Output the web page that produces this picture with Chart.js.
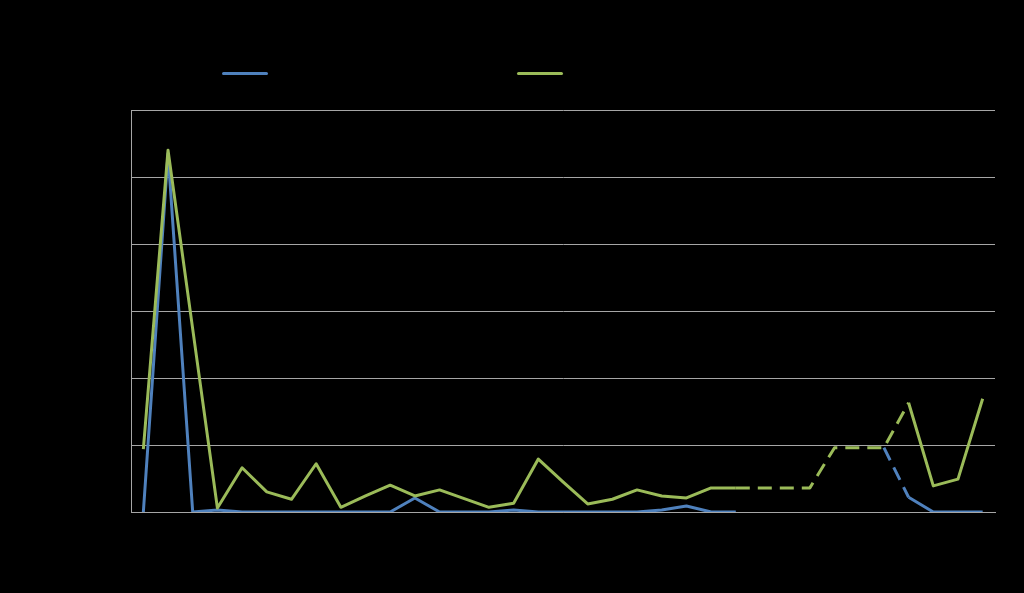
<!DOCTYPE html>
<html>
<head>
<meta charset="utf-8">
<script src="https://cdn.jsdelivr.net/npm/chart.js@4"></script>
<style>
  html, body { margin: 0; padding: 0; background: #000; }
  #wrap { position: relative; width: 1024px; height: 593px; background: #000; }
  #chart { position: absolute; left: 0; top: 0; }
  .swatch { position: absolute; top: 72px; width: 46px; height: 3px; border-radius: 2px; }
  .label { position: absolute; top: 64px; font: 14px "Liberation Sans", Arial, sans-serif; color: #000; }
</style>
</head>
<body>
<div id="wrap">
  <canvas id="chart" width="1024" height="593"></canvas>
  <div id="legend"></div>
</div>
<script>
'use strict';

// ======= data =======

var categories = ['1', '2', '3', '4', '5', '6', '7', '8', '9', '10',
  '11', '12', '13', '14', '15', '16', '17', '18', '19', '20',
  '21', '22', '23', '24', '25', '26', '27', '28', '29', '30',
  '31', '32', '33', '34', '35'];

var seriesNames = ['Series 1', 'Series 2'];

// blue line (gap where it has no value)
var blueValues = [0, 5.35, 0, 0.03, 0, 0, 0, 0, 0, 0,
  0, 0.21, 0, 0, 0, 0.03, 0, 0, 0, 0,
  0, 0.03, 0.09, 0, 0, null, null, null, null, null,
  0.96, 0.22, 0, 0, 0];

// green line
var greenValues = [0.94, 5.40, 2.73, 0.06, 0.66, 0.30, 0.19, 0.72, 0.07, 0.24,
  0.40, 0.24, 0.33, 0.20, 0.07, 0.13, 0.79, 0.45, 0.12, 0.19,
  0.33, 0.24, 0.21, 0.36, 0.36, 0.36, 0.36, 0.36, 0.96, 0.96,
  0.96, 1.63, 0.39, 0.49, 1.69];

var yTicks = [0, 1, 2, 3, 4, 5, 6];

var blueColor = '#4F81BD';
var greenColor = '#9BBB59';
var gridColor = '#a6a6a6';

// ======= legend =======

function buildLegend() {
  var legendEl = document.getElementById('legend');
  var lefts = [222, 517];
  var colors = [blueColor, greenColor];
  for (var i = 0; i < seriesNames.length; i++) {
    var sw = document.createElement('div');
    sw.className = 'swatch';
    sw.style.left = lefts[i] + 'px';
    sw.style.background = colors[i];
    legendEl.appendChild(sw);
    var lb = document.createElement('div');
    lb.className = 'label';
    lb.style.left = (lefts[i] + 54) + 'px';
    lb.textContent = seriesNames[i];
    legendEl.appendChild(lb);
  }
}

buildLegend();

// ======= chart =======

var ctx = document.getElementById('chart').getContext('2d');
var chart = new Chart(ctx, {
  type: 'line',
  data: {
    labels: categories,
    datasets: [{
      label: seriesNames[0],
      data: blueValues,
      order: 1, // drawn under the green line
      borderColor: blueColor,
      backgroundColor: blueColor,
      borderWidth: 3,
      borderJoinStyle: 'round',
      pointRadius: 0,
      tension: 0,
      spanGaps: false,
      segment: {
        borderDash: function (c) { return c.p0DataIndex === 30 ? [14, 8] : undefined; }
      }
    },
    {
      label: seriesNames[1],
      data: greenValues,
      order: 0,
      borderColor: greenColor,
      backgroundColor: greenColor,
      borderWidth: 3,
      borderJoinStyle: 'round',
      pointRadius: 0,
      tension: 0,
      segment: {
        borderDash: function (c) {
          return (c.p0DataIndex >= 24 && c.p1DataIndex <= 31) ? [14, 8] : undefined;
        }
      }
    }]
  },
  options: {
    responsive: false,
    animation: false,
    layout: { padding: { top: 110, right: 29, left: 0, bottom: 0 } },
    plugins: {
      legend: { display: false },
      tooltip: { enabled: false }
    },
    scales: {
      x: {
        offset: true,
        grid: { display: false, drawTicks: false },
        border: { color: gridColor, width: 1 },
        ticks: { color: '#000', font: { size: 12 }, autoSkip: false, maxRotation: 0 },
        afterFit: function (scale) { scale.height = 81; }
      },
      y: {
        min: 0,
        max: 6,
        afterBuildTicks: function (scale) {
          scale.ticks = yTicks.map(function (v) { return { value: v }; });
        },
        grid: { color: gridColor, lineWidth: 1, drawTicks: false },
        border: { color: gridColor, width: 1 },
        ticks: { color: '#000', font: { size: 12 } },
        afterFit: function (scale) { scale.width = 131; }
      }
    }
  }
});
</script>
</body>
</html>
